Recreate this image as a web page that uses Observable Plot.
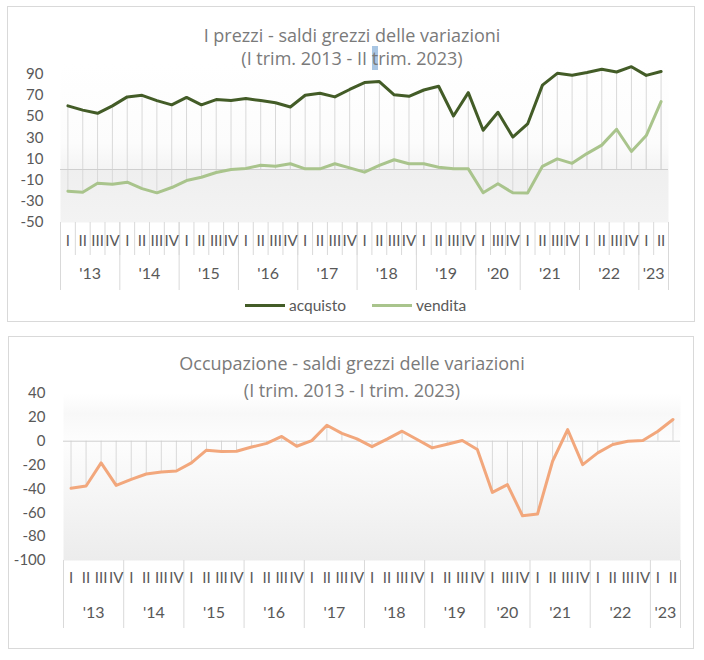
<!DOCTYPE html>
<html>
<head>
<meta charset="utf-8">
<script src="https://cdn.jsdelivr.net/npm/d3@7"></script>
<script src="https://cdn.jsdelivr.net/npm/@observablehq/plot@0.6"></script>
<style>
  body { margin: 0; background: #fff; font-family: Lato, "Open Sans", sans-serif; }
  #page { position: relative; width: 704px; height: 660px; overflow: hidden; }
  .panel { position: absolute; border: 1px solid #d9d9d9; box-sizing: border-box; }
  .title { position: absolute; left: 0; width: 704px; text-align: center; color: #7a7a7a; font-family: "Open Sans", Lato, sans-serif; font-size: 18px; line-height: 20px; white-space: nowrap; }
  .legend { position: absolute; top: 296px; height: 20px; font-size: 15.5px; color: #595959; line-height: 18px; }
  .sw { position: absolute; top: 8px; width: 40px; height: 3px; }
  .chart { position: absolute; left: 0; }
</style>
</head>
<body>
<div id="page">
  <div class="panel" style="left:7px;top:6px;width:688px;height:316px;"></div>
  <div class="panel" style="left:8px;top:336px;width:686px;height:313px;"></div>
</div>
<script>
// ---------- data ----------
const yearLabels = ["'13", "'14", "'15", "'16", "'17", "'18", "'19", "'20", "'21", "'22", "'23"];
const quartersByYear = [
  ["I", "II", "III", "IV"], ["I", "II", "III", "IV"], ["I", "II", "III", "IV"], ["I", "II", "III", "IV"],
  ["I", "II", "III", "IV"], ["I", "II", "III", "IV"], ["I", "II", "III", "IV"], ["I", "III", "IV"],
  ["I", "II", "III", "IV"], ["I", "II", "III", "IV"], ["I", "II"]
];
const acquisto = [60, 56, 53, 60, 68.5, 70, 65, 61, 68, 61, 66, 65, 67, 65, 63, 59, 70, 72, 68.5, 75.5,
  82, 83, 70.5, 69, 75, 78.5, 50.5, 72.5, 37, 54, 30.6, 43, 79.6, 90.7, 89, 91.5, 94.5, 92, 97, 88.8, 92.5];
const vendita = [-20.5, -21.5, -13, -14, -12, -18, -22, -17, -10.4, -7.3, -2.8, 0, 1, 4, 3, 5.4, 0.6, 0.6, 5.4, 1.5,
  -2.5, 3.8, 9.2, 5.4, 5.4, 2.2, 0.6, 0.6, -22, -13.5, -22, -22.2, 3, 10, 5.8, 15, 23, 38, 17, 32, 64];
const occupazione = [-39.5, -37.5, -18.2, -37, -32, -27.5, -25.8, -25, -18.2, -7.5, -8.7, -8.4, -4.9, -1.8, 4, -4.2,
  0.5, 13.4, 6.6, 2, -4.6, 1.7, 8.4, 1.4, -5.6, -2.5, 0.6, -7, -42.9, -36.4, -62.5, -61, -16.8, 9.8, -19.6,
  -9.8, -2.8, 0, 0.6, 8.4, 18.2];
const yTicksPrezzi = [-50, -30, -10, 10, 30, 50, 70, 90];
const yTicksOcc = [-100, -80, -60, -40, -20, 0, 20, 40];

// ---------- derived tables ----------
const cats = [];
const years = [];
quartersByYear.forEach((qs, yi) => {
  const start = cats.length;
  qs.forEach(q => cats.push({i: cats.length, q, year: yearLabels[yi]}));
  years.push({label: yearLabels[yi], start, end: cats.length});
});
const yearCenters = years.map(y => ({x: (y.start + y.end - 1) / 2, label: y.label}));
const yearBounds = [-0.5, ...years.map(y => y.end - 0.5)];
const quarterBounds = d3.range(cats.length + 1).map(k => k - 0.5);
const dataP = cats.map((c, k) => ({...c, acquisto: acquisto[k], vendita: vendita[k]}));
const dataO = cats.map((c, k) => ({...c, occupazione: occupazione[k]}));

const grey = "#595959";
const lineGrey = "#d9d9d9";
const baseStyle = {fontFamily: "Lato, 'Open Sans', sans-serif", fontSize: "15px", color: grey, background: "transparent", overflow: "visible"};

function addGradient(svg, id, stops) {
  const g = d3.select(svg).insert("defs", ":first-child")
    .append("linearGradient").attr("id", id)
    .attr("x1", 0).attr("y1", 0).attr("x2", 0).attr("y2", 1);
  stops.forEach(([o, c]) => g.append("stop").attr("offset", o).attr("stop-color", c));
}

// ---------- top chart: prezzi ----------
const chartPrezzi = Plot.plot({
  width: 704, height: 239,
  marginTop: 8, marginBottom: 72, marginLeft: 60, marginRight: 36,
  x: {domain: [-0.5, cats.length - 0.5]},
  y: {domain: [-50, 100]},
  style: baseStyle,
  marks: [
    Plot.frame({fill: "url(#gP)", stroke: null}),
    Plot.ruleX(dataP, {x: "i", y1: 0, y2: "acquisto", stroke: lineGrey}),
    Plot.ruleX(dataP, {x: "i", y1: 0, y2: "vendita", stroke: lineGrey}),
    Plot.ruleY([0], {stroke: "#cfcfcf"}),
    Plot.line(dataP, {x: "i", y: "vendita", stroke: "#a9c48c", strokeWidth: 3, strokeLinejoin: "round"}),
    Plot.line(dataP, {x: "i", y: "acquisto", stroke: "#435c27", strokeWidth: 3, strokeLinejoin: "round"}),
    Plot.axisY({ticks: yTicksPrezzi, tickSize: 0, tickPadding: 17, tickFormat: d => String(d), label: null}),
    Plot.axisX({ticks: quarterBounds, tickSize: 33, tickFormat: () => "", stroke: lineGrey, label: null}),
    Plot.axisX({ticks: yearBounds, tickSize: 68, tickFormat: () => "", stroke: lineGrey, label: null}),
    Plot.text(cats, {x: "i", text: "q", frameAnchor: "bottom", dy: 23, fill: grey, fontSize: 15}),
    Plot.text(yearCenters, {x: "x", text: "label", frameAnchor: "bottom", dy: 56, fill: grey, fontSize: 16})
  ]
});
addGradient(chartPrezzi, "gP", [[0, "#ffffff"], [0.5, "#fcfcfc"], [0.667, "#f4f4f4"], [0.667, "#efefef"], [1, "#f3f3f3"]]);
chartPrezzi.classList.add("chart");
chartPrezzi.style.position = "absolute";
chartPrezzi.style.left = "0px";
chartPrezzi.style.top = "55px";

// ---------- bottom chart: occupazione ----------
const chartOcc = Plot.plot({
  width: 704, height: 247,
  marginTop: 8, marginBottom: 72, marginLeft: 63, marginRight: 24,
  x: {domain: [-0.5, cats.length - 0.5]},
  y: {domain: [-100, 40]},
  style: baseStyle,
  marks: [
    Plot.frame({fill: "url(#gO)", stroke: null}),
    Plot.ruleX(dataO, {x: "i", y1: 0, y2: "occupazione", stroke: lineGrey}),
    Plot.ruleY([0], {stroke: "#cfcfcf"}),
    Plot.line(dataO, {x: "i", y: "occupazione", stroke: "#f2a77c", strokeWidth: 3, strokeLinejoin: "round"}),
    Plot.axisY({ticks: yTicksOcc, tickSize: 0, tickPadding: 18, tickFormat: d => String(d), label: null}),
    Plot.axisX({ticks: yearBounds, tickSize: 68, tickFormat: () => "", stroke: lineGrey, label: null}),
    Plot.text(cats, {x: "i", text: "q", frameAnchor: "bottom", dy: 22, fill: grey, fontSize: 15}),
    Plot.text(yearCenters, {x: "x", text: "label", frameAnchor: "bottom", dy: 57, fill: grey, fontSize: 16})
  ]
});
addGradient(chartOcc, "gO", [[0, "#ffffff"], [0.12, "#f8f8f8"], [0.2857, "#fdfdfd"], [1, "#ececec"]]);
chartOcc.classList.add("chart");
chartOcc.style.position = "absolute";
chartOcc.style.left = "0px";
chartOcc.style.top = "385px";

const page = document.getElementById("page");
page.appendChild(chartPrezzi);
page.appendChild(chartOcc);

// ---------- titles & legend ----------
function addDiv(cls, css, html) {
  const d = document.createElement("div");
  d.className = cls;
  d.style.cssText = css;
  d.innerHTML = html;
  page.appendChild(d);
  return d;
}
addDiv("title", "top:25px;", "I prezzi - saldi grezzi delle variazioni");
addDiv("title", "top:48px;", "(I trim. 2013 - II <span style=\"background:#a9c6e3;\">t</span>rim. 2023)");
addDiv("title", "top:353px;", "Occupazione - saldi grezzi delle variazioni");
addDiv("title", "top:380px;", "(I trim. 2013 - I trim. 2023)");

const legendItems = [
  {name: "acquisto", color: "#435c27", x: 245},
  {name: "vendita", color: "#a9c48c", x: 372}
];
legendItems.forEach(it => {
  addDiv("legend", `left:${it.x}px;width:120px;`,
    `<span class="sw" style="left:0;background:${it.color};"></span><span style="position:absolute;left:44px;top:0;">${it.name}</span>`);
});
</script>
</body>
</html>
